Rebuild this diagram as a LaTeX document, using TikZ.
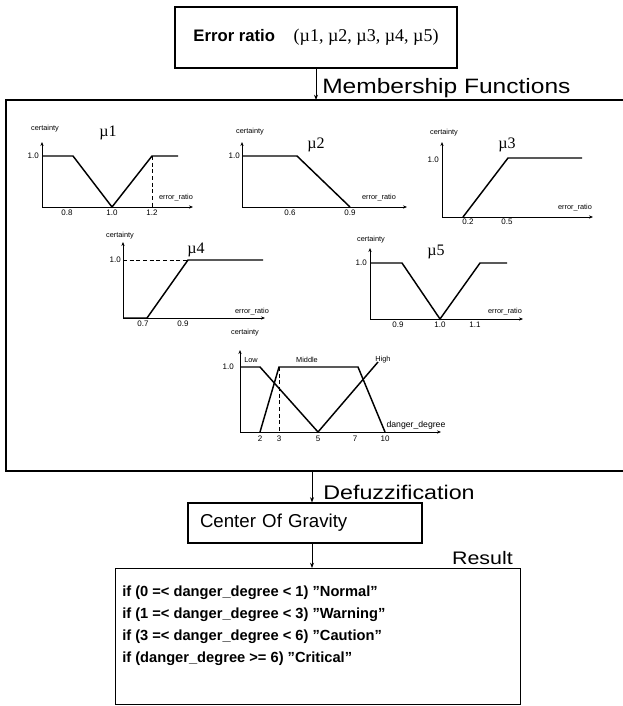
\documentclass[tikz,border=0pt]{standalone}
\usepackage{fontspec}
\setmainfont{Liberation Sans}
\newfontfamily\serifmu{Liberation Serif}
\newfontfamily\widesans[FakeStretch=1.18]{Liberation Sans}
\usetikzlibrary{arrows.meta}
\begin{document}
\begin{tikzpicture}[x=0.75pt,y=-0.75pt,
  boxline/.style={draw, line width=0.8pt},
  axis/.style={-{Stealth[length=3pt,width=2.4pt]}, line width=0.6pt},
  mf/.style={line width=1.1pt},
  guide/.style={dashed, line width=0.6pt, dash pattern=on 3pt off 2pt},
  tiny/.style={font=\fontsize{5.5}{6}\selectfont, inner sep=0pt},
  ticklab/.style={font=\fontsize{6}{7}\selectfont, inner sep=0pt},
  mulab/.style={font=\serifmu\fontsize{12}{13}\selectfont, inner sep=0pt},
  flow/.style={-{Stealth[length=4pt,width=3pt]}, line width=0.6pt},
  biglab/.style={font=\widesans\fontsize{14.5}{16}\selectfont, inner sep=0pt}]
\useasboundingbox (0,0) rectangle (622,706);

% ---------- top box
\node[boxline, minimum width=211.5pt, minimum height=45.75pt, inner sep=0pt] (top) at (316,37.5)
  {{\bfseries\fontsize{12.5}{14}\selectfont Error ratio}\hspace{14pt}{\serifmu\fontsize{13.5}{15}\selectfont (µ1, µ2, µ3, µ4, µ5)}};

% ---------- membership box (open on the right)
\coordinate (mbtop) at (316,100);
\coordinate (mbbot) at (312,471);
\draw[line width=0.8pt] (625,100) -- (6,100) -- (6,471) -- (625,471);
\draw[flow] (top.south) -- (mbtop);
\node[biglab, font=\widesans\fontsize{15.6}{17}\selectfont, anchor=west] (mflab) at (322,88) {Membership Functions};

% ---------- mu1
\draw[axis] (42,207) -- (42,142);
\draw[axis] (42,207) -- (193,207);
\draw[mf] (42,156) -- (73,156) -- (112,207) -- (152,156) -- (178,156);
\draw[guide] (152,156) -- (152,207);
\node[tiny] (c1) at (45,129) {certainty};
\node[ticklab, anchor=east] (o1) at (39,156) {1.0};
\node[ticklab] (t1a) at (67,213) {0.8};
\node[ticklab] (t1b) at (112,213) {1.0};
\node[ticklab] (t1c) at (152,213) {1.2};
\node[tiny] (e1) at (176,198) {error\_ratio};
\node[mulab] (m1) at (108,133) {µ1};

% ---------- mu2
\draw[axis] (242,207) -- (242,142);
\draw[axis] (242,207) -- (407,207);
\draw[mf] (242,156) -- (297,156) -- (350,207);
\node[tiny] (c2) at (250,132) {certainty};
\node[ticklab, anchor=east] (o2) at (240,156) {1.0};
\node[ticklab] (t2a) at (290,213) {0.6};
\node[ticklab] (t2b) at (350,213) {0.9};
\node[tiny] (e2) at (379,198) {error\_ratio};
\node[mulab] (m2) at (316,145) {µ2};

% ---------- mu3
\draw[axis] (442,217) -- (442,142);
\draw[axis] (442,217) -- (593,217);
\draw[mf] (463,217) -- (508,158) -- (582,158);
\node[tiny] (c3) at (444,133) {certainty};
\node[ticklab, anchor=east] (o3) at (439,160) {1.0};
\node[ticklab] (t3a) at (468,222) {0.2};
\node[ticklab] (t3b) at (507,222) {0.5};
\node[tiny] (e3) at (575,208) {error\_ratio};
\node[mulab] (m3) at (507,145) {µ3};

% ---------- mu4
\draw[axis] (123,318) -- (123,242);
\draw[axis] (123,318) -- (265,318);
\draw[mf] (123,318) -- (147,318) -- (188,260) -- (263,260);
\draw[guide] (123,260) -- (188,260);
\node[tiny] (c4) at (120,236) {certainty};
\node[ticklab, anchor=east] (o4) at (121,260) {1.0};
\node[ticklab] (t4a) at (143,324) {0.7};
\node[ticklab] (t4b) at (183,324) {0.9};
\node[tiny] (e4) at (252,312) {error\_ratio};
\node[mulab] (m4) at (196,250) {µ4};

% ---------- mu5
\draw[axis] (370,319) -- (370,248);
\draw[axis] (370,319) -- (523,319);
\draw[mf] (370,263) -- (402,263) -- (440,319) -- (480,263) -- (507,263);
\node[tiny] (c5) at (371,240) {certainty};
\node[ticklab, anchor=east] (o5) at (367,263) {1.0};
\node[ticklab] (t5a) at (398,325) {0.9};
\node[ticklab] (t5b) at (440,325) {1.0};
\node[ticklab] (t5c) at (475,325) {1.1};
\node[tiny] (e5) at (505,312) {error\_ratio};
\node[mulab] (m5) at (436,252) {µ5};

% ---------- danger degree
\draw[axis] (240,432) -- (240,350);
\draw[axis] (240,432) -- (441,432);
\draw[mf] (240,367) -- (260,367) -- (318,432) -- (378,362);
\draw[mf] (260,432) -- (279,367) -- (358,367) -- (385,432);
\draw[guide] (279,367) -- (279,432);
\node[tiny] (c6) at (245,333) {certainty};
\node[ticklab, anchor=east] (o6) at (234,367) {1.0};
\node[tiny] (low) at (251,360) {Low};
\node[tiny] (mid) at (307,360) {Middle};
\node[tiny] (high) at (383,360) {High};
\node[ticklab] (d2) at (260,439) {2};
\node[ticklab] (d3) at (279,439) {3};
\node[ticklab] (d5) at (318,439) {5};
\node[ticklab] (d7) at (355,439) {7};
\node[ticklab] (d10) at (385,439) {10};
\node[ticklab, font=\fontsize{6.5}{7}\selectfont] (dd) at (416,425) {danger\_degree};

% ---------- center of gravity
\node[boxline, minimum width=175.5pt, minimum height=30pt, text width=157.5pt, inner xsep=9pt, align=left,
      font=\fontsize{14}{16}\selectfont] (cog) at (305,523) {Center Of Gravity};
\coordinate (ax2) at (312,0);
\draw[flow] (mbbot) -- (cog.north -| ax2);
\node[biglab, font=\widesans\fontsize{14.8}{16}\selectfont, anchor=west] (defz) at (323,492) {Defuzzification};

% ---------- result
\node[boxline, minimum width=303.75pt, minimum height=102pt, inner sep=0pt, anchor=north west] (res) at (115,568) {};
\draw[flow] (cog.south -| ax2) -- (res.north -| ax2);
\node[biglab, font=\widesans\fontsize{13.6}{15}\selectfont, anchor=south east] (reslab) at (513,565) {Result};
\node[anchor=north west, inner sep=0pt, align=left, font=\bfseries\fontsize{11}{16.5}\selectfont] (restext) at (122,586)
  {if (0 =< danger\_degree < 1) "Normal"\\
   if (1 =< danger\_degree < 3) "Warning"\\
   if (3 =< danger\_degree < 6) "Caution"\\
   if (danger\_degree >= 6) "Critical"};
\end{tikzpicture}
\end{document}
